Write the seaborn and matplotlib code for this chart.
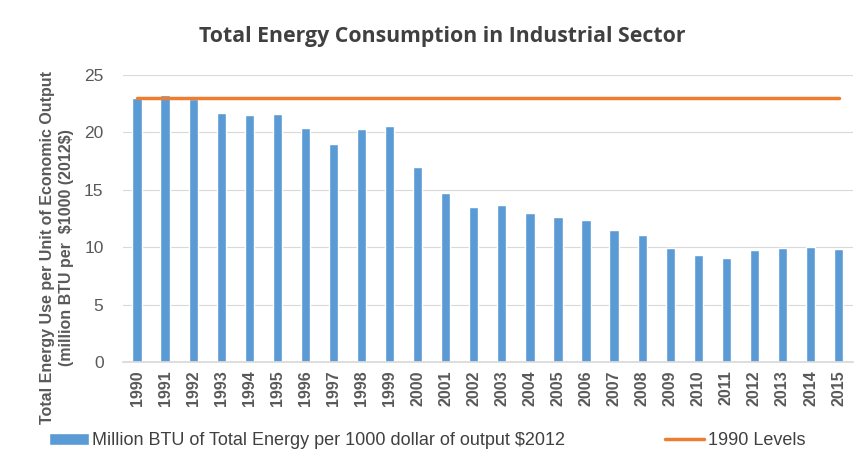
import seaborn as sns
import numpy as np
import pandas as pd
import matplotlib.pyplot as plt
from matplotlib.patches import Patch
from matplotlib.lines import Line2D

years = [str(y) for y in range(1990, 2016)]
energy = [23.0, 23.25, 22.9, 21.7, 21.5, 21.6, 20.35, 19.0, 20.3, 20.6,
          17.0, 14.75, 13.5, 13.65, 12.95, 12.65, 12.35, 11.5, 11.05, 9.95,
          9.3, 9.05, 9.75, 9.95, 10.05, 9.85]
level_1990 = [23.0] * len(years)

bar_label = "Million BTU of Total Energy per 1000 dollar of output \\$2012"
line_label = "1990 Levels"

sns.set_theme(style="white")
plt.rcParams['font.family'] = ['Liberation Sans', 'DejaVu Sans']

gray = "#595959"
df = pd.DataFrame({"year": years, "energy": energy, "level": level_1990})

fig = plt.figure(figsize=(8.63, 4.72), dpi=100)
ax = fig.add_axes([0.1425, 0.233, 0.8455, 0.608])

sns.barplot(data=df, x="year", y="energy", color="#5B9BD5", saturation=1,
            width=0.33, ax=ax)
sns.lineplot(data=df, x="year", y="level", color="#ED7D31", linewidth=2.5,
             sort=False, ax=ax)

ax.set_ylim(0, 25)
ax.set_xlim(-0.5, len(years) - 0.5)
ax.set_yticks([0, 5, 10, 15, 20, 25])
ax.yaxis.grid(True, color="#d9d9d9", linewidth=0.8)
ax.set_axisbelow(True)
for s in ["top", "right", "left"]:
    ax.spines[s].set_visible(False)
ax.spines["bottom"].set_color("#d9d9d9")
ax.set_xlabel("")
ax.set_ylabel("")
ax.tick_params(axis="y", labelsize=12.5, colors=gray, length=0, pad=14)
ax.tick_params(axis="x", labelsize=11.5, colors=gray, length=0, rotation=90, pad=6)
for t in ax.get_xticklabels():
    t.set_fontweight("bold")

fig.text(0.512, 0.922, "Total Energy Consumption in Industrial Sector",
         ha="center", va="center", fontsize=15.3, fontweight="bold",
         color="#404040", family=["Open Sans", "DejaVu Sans"])
fig.text(0.066, 0.475,
         "Total Energy Use per Unit of Economic Output\n(million BTU per  \\$1000 (2012\\$)",
         rotation=90, ha="center", va="center", multialignment="center",
         fontsize=11.5, fontweight="bold", color=gray, linespacing=1.3)

handles = [Patch(facecolor="#5B9BD5", label=bar_label),
           Line2D([0], [0], color="#ED7D31", linewidth=2.5, label=line_label)]
fig.legend(handles=handles, loc="center", bbox_to_anchor=(0.495, 0.066), ncol=2,
           frameon=False, handlelength=2.2, columnspacing=5.5, handletextpad=0.2,
           prop={"size": 13}, labelcolor="#404040")

fig.savefig("out.png", dpi=100)
